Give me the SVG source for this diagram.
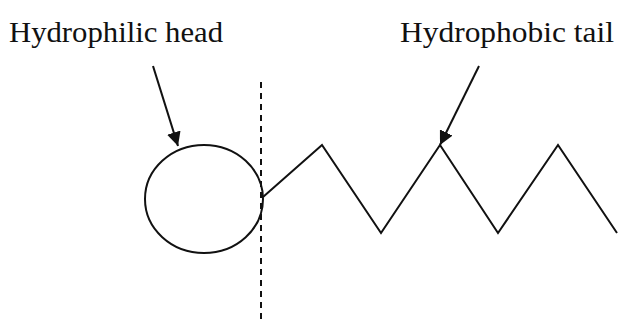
<svg xmlns="http://www.w3.org/2000/svg" width="618" height="326" viewBox="0 0 618 326">
<style>
text{font-family:"Liberation Serif","Times New Roman",serif;font-size:30px;fill:#111}
.ln{fill:none;stroke:#111;stroke-width:2}
.dash{fill:none;stroke:#111;stroke-width:2;stroke-dasharray:6,5}
</style>
<defs>
<marker id="ah" viewBox="0 0 10 10" refX="10" refY="5" markerWidth="7" markerHeight="7" markerUnits="strokeWidth" orient="auto">
<path d="M0,0 L10,5 L0,10 z" fill="#111"/>
</marker>
</defs>
<rect width="618" height="326" fill="#fff"/>
<g id="head-label"><text x="9" y="42" textLength="214" lengthAdjust="spacingAndGlyphs">Hydrophilic head</text></g>
<g id="tail-label"><text x="400" y="42" textLength="214" lengthAdjust="spacingAndGlyphs">Hydrophobic tail</text></g>
<g id="head"><ellipse class="ln" cx="204" cy="199" rx="59" ry="54"/></g>
<g id="tail"><polyline class="ln" points="263,197 322,145 381,233 440,145 498,233 558,145 617,233"/></g>
<g id="boundary"><line class="dash" x1="261" y1="82" x2="261" y2="324"/></g>
<g id="connectors">
<line class="ln" x1="153" y1="66" x2="178" y2="146" marker-end="url(#ah)"/>
<line class="ln" x1="479" y1="66" x2="440" y2="145" marker-end="url(#ah)"/>
</g>
</svg>
